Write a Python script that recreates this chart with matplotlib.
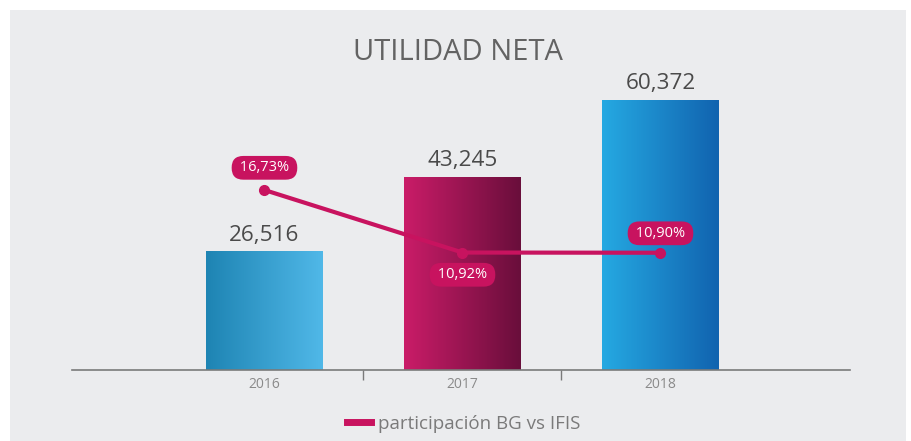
import numpy as np
import matplotlib.pyplot as plt
from matplotlib.colors import LinearSegmentedColormap
from matplotlib.patches import Rectangle
from matplotlib.lines import Line2D

# datos
years = ['2016', '2017', '2018']
utilidad = [26516, 43245, 60372]
utilidad_labels = ['26,516', '43,245', '60,372']
participacion = [16.73, 10.92, 10.90]
participacion_labels = ['16,73%', '10,92%', '10,90%']
serie_nombre = 'participación BG vs IFIS'

bar_grads = [('#1E84B3', '#50B8E8'), ('#CA1C68', '#690E3B'), ('#25A9E2', '#1163AF')]
label_offsets = [16, -16, 14]  # puntos, arriba/abajo del marcador
MAGENTA = '#C8135F'

plt.rcParams['font.family'] = ['Open Sans', 'DejaVu Sans']

W, H = 911, 441
fig = plt.figure(figsize=(W / 100, H / 100), dpi=100)
fig.patch.set_facecolor('white')
fig.patches.append(Rectangle((10 / W, 0), 896 / W, 431 / H, transform=fig.transFigure,
                             facecolor='#EBECEE', edgecolor='none', zorder=-10))

ax = fig.add_axes([72 / W, 71 / H, 778 / W, 270 / H])
ax.set_facecolor('none')
x = np.arange(len(years))

bars = ax.bar(x, utilidad, width=0.59, color='none', edgecolor='none')
grad = np.linspace(0, 1, 256).reshape(1, -1)
for b, (c1, c2) in zip(bars, bar_grads):
    cmap = LinearSegmentedColormap.from_list('g', [c1, c2])
    im = ax.imshow(grad, cmap=cmap, aspect='auto', zorder=2,
                   extent=(b.get_x(), b.get_x() + b.get_width(), 0, b.get_height()))
    im.set_clip_path(b)
ax.set_xlim(-0.972, 2.957)
ax.set_ylim(0, 60372)

for xi, v, lab in zip(x, utilidad, utilidad_labels):
    ax.annotate(lab, (xi, v), xytext=(0, 4), textcoords='offset points', ha='center',
                va='bottom', fontsize=16.2, color='#4A4A4A')

for s in ['top', 'right', 'left']:
    ax.spines[s].set_visible(False)
ax.spines['bottom'].set_color('#7A7A7A')
ax.spines['bottom'].set_linewidth(1.2)
ax.set_yticks([])
ax.set_xticks(x)
ax.set_xticklabels(years, fontsize=10, color='#8A8A8A')
ax.tick_params(axis='x', which='major', length=0, pad=5)
ax.set_xticks([0.5, 1.5], minor=True)
ax.tick_params(axis='x', which='minor', length=7, color='#7A7A7A', width=1)

ax2 = ax.twinx()
ax2.set_ylim(0, 25.1)
ax2.axis('off')
ax2.plot(x, participacion, color=MAGENTA, lw=3, marker='o', markersize=7, zorder=3)
for xi, v, lab, off in zip(x, participacion, participacion_labels, label_offsets):
    ax2.annotate(' ' + lab + ' ', (xi, v), xytext=(0, off), textcoords='offset points',
                 ha='center', va='center', fontsize=10.5, color='white',
                 bbox=dict(boxstyle='round,pad=0.3,rounding_size=0.8', fc=MAGENTA, ec='none'))

fig.text(458 / W, 1 - 52 / H, 'UTILIDAD NETA', ha='center', va='center',
         fontsize=21, color='#636363')

handle = Line2D([], [], color=MAGENTA, lw=5)
fig.legend([handle], [serie_nombre], loc='center', bbox_to_anchor=(464 / W, 17 / H),
           frameon=False, fontsize=13.5, labelcolor='#7A7A7A', handlelength=1.25,
           handletextpad=0.4)

plt.savefig('out.png', dpi=100)
